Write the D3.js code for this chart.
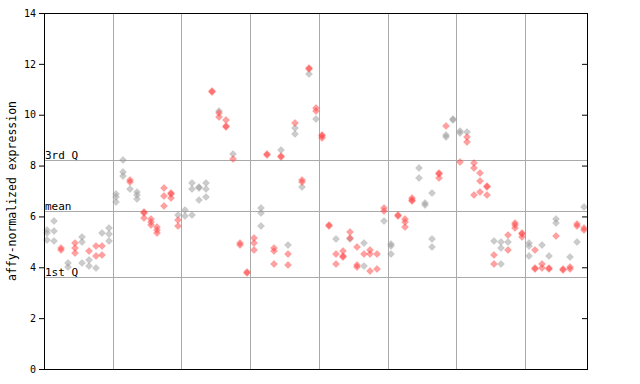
<!DOCTYPE html>
<html><head><meta charset="utf-8">
<script src="https://cdn.jsdelivr.net/npm/d3@7"></script>
<style>body{margin:0;background:#fff}svg{display:block}</style>
</head><body>
<script>
// sample index (0..78) and expression value, split by colour
const grayIdx = [0,0,0,1,1,1,3,3,5,5,5,6,6,7,8,9,9,9,
  10,10,10,11,11,11,12,13,13,13,19,
  20,20,21,21,21,22,22,22,23,23,23,25,27,
  31,31,31,34,35,36,36,37,38,39,
  42,44,46,46,49,
  50,50,50,54,54,55,55,56,56,56,58,58,59,59,
  60,60,61,65,66,66,66,67,
  70,70,70,72,73,74,74,76,77,78];
const grayVal = [5.47,5.33,5.07,5.82,5.43,5.03,4.18,4.02,5.18,4.98,4.16,4.27,4.05,3.96,5.36,5.53,5.30,5.02,
  6.87,6.78,6.58,8.21,7.73,7.59,7.07,6.96,6.84,6.70,6.06,
  6.25,6.02,7.30,7.08,6.06,7.14,7.10,6.65,7.30,7.07,6.75,10.16,8.45,
  6.32,6.15,5.61,8.61,4.86,9.46,9.23,7.14,11.59,9.82,
  5.10,5.10,4.94,4.04,5.82,
  4.90,4.84,4.51,7.89,7.50,6.54,6.45,6.91,5.11,4.80,9.19,9.13,9.83,9.80,
  9.35,9.27,9.31,5.02,4.98,4.75,4.12,4.98,
  4.94,4.82,4.43,4.86,4.43,5.89,5.73,4.39,4.98,6.36];
const redIdx = [2,2,4,4,4,6,7,7,8,8,
  12,12,14,14,14,15,15,15,16,16,16,17,17,17,18,18,18,19,19,
  24,24,25,25,26,26,26,27,28,28,29,29,
  30,30,30,32,32,33,33,33,34,34,35,35,36,37,37,38,38,39,39,
  40,40,40,41,41,42,42,43,43,43,44,44,45,45,45,46,47,47,47,48,48,49,49,
  51,51,52,52,52,53,53,53,57,57,57,58,
  60,61,61,62,62,62,63,63,63,64,64,64,65,65,67,67,68,68,68,69,69,69,
  71,71,71,72,72,73,73,74,75,75,76,76,77,77,78,78];
const redVal = [4.75,4.68,4.95,4.76,4.55,4.64,4.85,4.44,4.84,4.49,
  7.43,7.34,6.16,6.14,5.93,5.89,5.77,5.66,5.58,5.45,5.33,7.10,6.79,6.40,6.94,6.90,6.71,5.86,5.61,
  10.92,10.88,10.05,9.90,9.79,9.55,9.51,8.26,4.97,4.89,3.82,3.78,
  5.14,4.97,4.67,8.46,8.42,4.75,4.65,4.12,8.37,8.33,4.51,4.08,9.66,7.43,7.34,11.82,11.78,10.25,10.16,
  9.19,9.15,9.07,5.68,5.64,4.51,4.12,4.64,4.46,4.42,5.40,5.16,4.78,4.09,4.02,4.51,4.68,4.51,3.84,4.51,3.94,6.32,6.23,
  6.04,6.00,5.90,5.77,5.60,6.71,6.64,6.60,7.69,7.65,7.52,9.56,
  8.13,9.11,8.91,8.09,7.89,6.86,7.69,7.38,6.95,7.18,7.14,6.83,4.47,4.12,5.26,4.67,5.73,5.65,5.53,5.36,5.32,5.20,
  4.67,3.98,3.94,4.12,3.96,3.98,3.94,5.22,3.94,3.90,4.00,3.92,5.69,5.61,5.53,5.45];
const groupBreaks = [10,20,30,40,50,60,70];
const nSamples = 79;
const yTicks = [0,2,4,6,8,10,12,14];
const refLines = [{label:"3rd Q", v:8.22},{label:"mean", v:6.20},{label:"1st Q", v:3.61}];

const W = 640, H = 384;
const L = 44, R = 587, T = 13, B = 369;
const svg = d3.select("body").append("svg").attr("width", W).attr("height", H);
const x = d3.scaleLinear().domain([0, nSamples]).range([L, R]);
const y = d3.scaleLinear().domain([0, 14]).range([B, T]);
const font = "'DejaVu Sans Mono', monospace";

// vertical group separators
svg.append("g").selectAll("line").data(groupBreaks).join("line")
  .attr("x1", d => Math.round(x(d)) + 0.5).attr("x2", d => Math.round(x(d)) + 0.5)
  .attr("y1", T).attr("y2", B).attr("stroke", "#aaaaaa").attr("stroke-width", 1);
// reference lines
svg.append("g").selectAll("line").data(refLines).join("line")
  .attr("x1", L).attr("x2", R)
  .attr("y1", d => Math.round(y(d.v)) + 0.5).attr("y2", d => Math.round(y(d.v)) + 0.5)
  .attr("stroke", "#aaaaaa").attr("stroke-width", 1);
svg.append("g").selectAll("text").data(refLines).join("text")
  .attr("x", L + 1).attr("y", d => Math.round(y(d.v)) - 1)
  .attr("font-family", font).attr("font-size", 11).attr("fill", "#000")
  .text(d => d.label);

// points
const diamond = (cx, cy, r) => `M${cx},${cy - r}L${cx + r},${cy}L${cx},${cy + r}L${cx - r},${cy}Z`;
function drawPts(idx, vals, color) {
  svg.append("g").selectAll("path").data(idx.map((d, k) => ({i: d, v: vals[k]}))).join("path")
    .attr("d", d => diamond(Math.round(x(d.i + 0.5)), Math.round(y(d.v)), 3.5))
    .attr("fill", color).attr("fill-opacity", 0.5)
    .attr("stroke", color).attr("stroke-opacity", 0.5).attr("stroke-width", 0.5);
}
drawPts(grayIdx, grayVal, "#999999");
drawPts(redIdx, redVal, "#ff4444");

// axes
const yl = d3.axisLeft(y).tickValues(yTicks).tickSize(5).tickPadding(3).tickFormat(d3.format("d"));
const gl = svg.append("g").attr("transform", `translate(${L},0)`).call(yl);
gl.select(".domain").remove();
gl.selectAll("text").attr("font-family", font).attr("font-size", 10).attr("fill", "#000");
gl.selectAll("line").attr("stroke", "#000");
const yr = d3.axisLeft(y).tickValues(yTicks).tickSize(5).tickFormat("");
const gr = svg.append("g").attr("transform", `translate(${R},0)`).call(yr);
gr.select(".domain").remove();
gr.selectAll("line").attr("stroke", "#000");

// frame
svg.append("rect").attr("x", L + 0.5).attr("y", T + 0.5).attr("width", R - L).attr("height", B - T)
  .attr("fill", "none").attr("stroke", "#000").attr("stroke-width", 1);

// y label
svg.append("text").attr("transform", `translate(12,191) rotate(-90)`)
  .attr("text-anchor", "middle").attr("dominant-baseline", "central")
  .attr("font-family", font).attr("font-size", 11.5).attr("fill", "#000")
  .text("affy-normalized expression");
</script>
</body></html>
